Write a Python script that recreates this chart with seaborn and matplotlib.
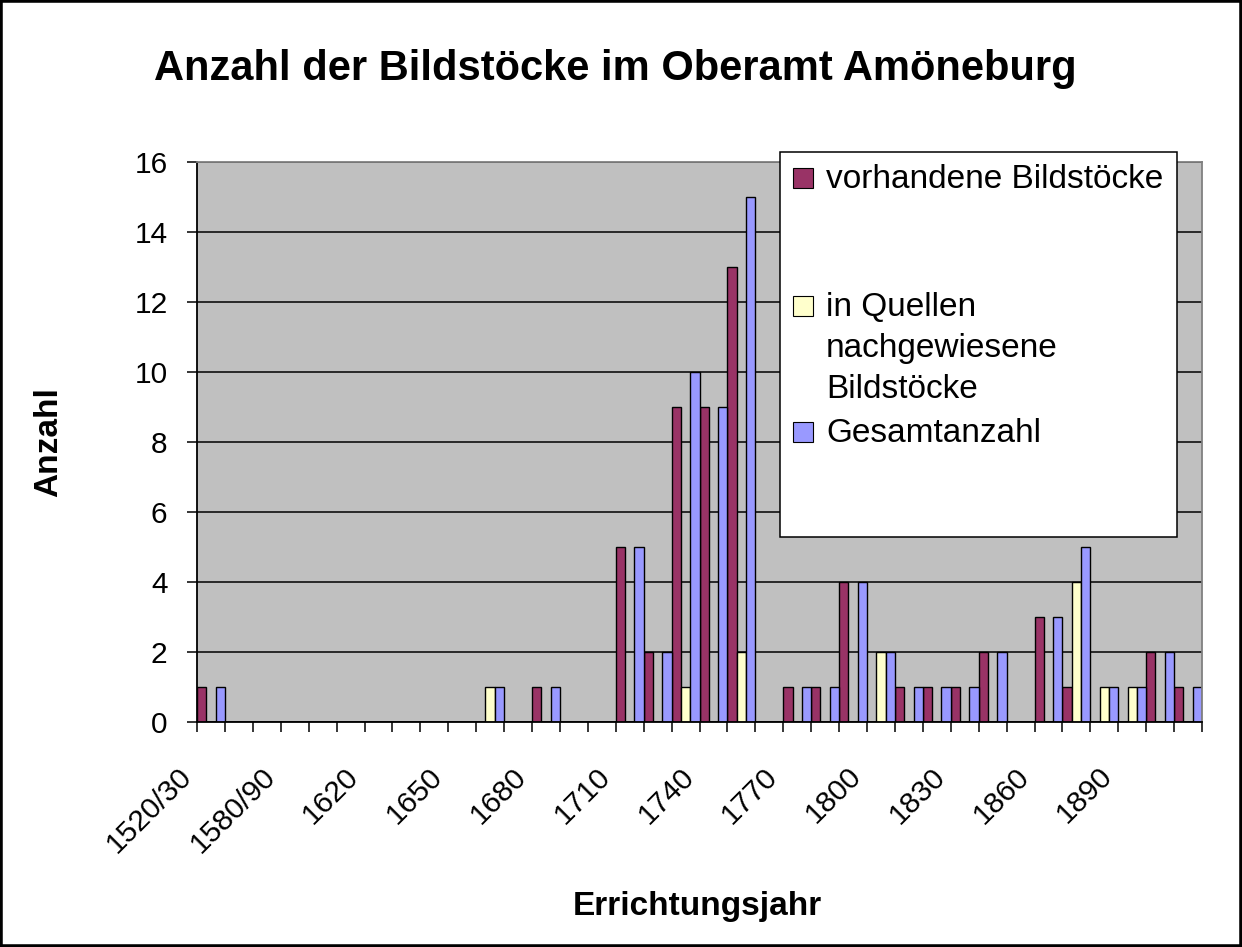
import matplotlib
matplotlib.use("Agg")
import numpy as np
import pandas as pd
import matplotlib.pyplot as plt
import matplotlib.transforms as mtransforms
from matplotlib.patches import Rectangle
import seaborn as sns

# Data (one value per category)
jahre = ["1520/30", "1540/50", "1560/70", "1580/90", "1600", "1610", "1620",
         "1630", "1640", "1650", "1660", "1670", "1680", "1690", "1700", "1710",
         "1720", "1730", "1740", "1750", "1760", "1770", "1780", "1790", "1800",
         "1810", "1820", "1830", "1840", "1850", "1860", "1870", "1880", "1890",
         "1900", "1910"]
vorhanden = [1, 0, 0, 0, 0, 0, 0, 0, 0, 0, 0, 0, 1, 0, 0, 5, 2, 9,
             9, 13, 0, 1, 1, 4, 0, 1, 1, 1, 2, 0, 3, 1, 0, 0, 2, 1]
quellen = [0, 0, 0, 0, 0, 0, 0, 0, 0, 0, 1, 0, 0, 0, 0, 0, 0, 1,
           0, 2, 0, 0, 0, 0, 2, 0, 0, 0, 0, 0, 0, 4, 1, 1, 0, 0]
gesamt = [1, 0, 0, 0, 0, 0, 0, 0, 0, 0, 1, 0, 1, 0, 0, 5, 2, 10,
          9, 15, 0, 1, 1, 4, 2, 1, 1, 1, 2, 0, 3, 5, 1, 1, 2, 1]
reihen = ["vorhandene Bildstöcke", "in Quellen\nnachgewiesene\nBildstöcke", "Gesamtanzahl"]
farben = ["#993366", "#FFFFCC", "#9999FF"]
beschriftet = ["1520/30", "1580/90", "1620", "1650", "1680", "1710", "1740",
               "1770", "1800", "1830", "1860", "1890"]
y_ticks = list(range(0, 17, 2))

df = pd.DataFrame({
    "Jahr": jahre * 3,
    "Anzahl": vorhanden + quellen + gesamt,
    "Reihe": [r for r in reihen for _ in jahre],
})

W, H = 1242, 947


def fx(px):
    return px / W


def fy(py):
    return 1 - py / H


sns.set_style("white")
plt.rcParams["font.family"] = ["Liberation Sans", "DejaVu Sans"]
plt.rcParams["text.color"] = "black"
plt.rcParams["axes.labelcolor"] = "black"
plt.rcParams["xtick.color"] = "black"
plt.rcParams["ytick.color"] = "black"

fig = plt.figure(figsize=(W / 100, H / 100), dpi=100)
ax = fig.add_axes([fx(197), fy(722), fx(1202) - fx(197), fy(162) - fy(722)])

sns.barplot(data=df, x="Jahr", y="Anzahl", hue="Reihe", order=jahre,
            hue_order=reihen, palette=farben, saturation=1, width=1,
            edgecolor="black", linewidth=1, errorbar=None, legend=False, ax=ax)

ax.set_facecolor("#C0C0C0")
ax.set_xlim(-0.5, len(jahre) - 0.5)
ax.set_ylim(0, 16)
ax.set_xlabel("")
ax.set_ylabel("")
ax.set_yticks(y_ticks)
ax.yaxis.grid(True, color="black", linewidth=1.1)
ax.set_axisbelow(True)
ax.tick_params(axis="y", direction="out", length=7.2, width=1.1, pad=14,
               labelsize=21.5, left=True, color="black", labelcolor="black")

# category labels every third category, tick marks at category borders
ax.set_xticks([jahre.index(j) for j in beschriftet], beschriftet)
ax.set_xticks(np.arange(-0.5, len(jahre)), minor=True)
ax.tick_params(axis="x", which="major", length=0, pad=36, labelsize=21.5,
               labelcolor="black")
ax.tick_params(axis="x", which="minor", direction="out", length=7.2,
               width=1.1, bottom=True, color="black")
offset = mtransforms.ScaledTranslation(-24 / 100, 0, fig.dpi_scale_trans)
for lbl in ax.get_xticklabels():
    lbl.set_rotation(45)
    lbl.set_ha("right")
    lbl.set_va("center")
    lbl.set_rotation_mode("anchor")
    lbl.set_transform(lbl.get_transform() + offset)

for side in ["left", "bottom"]:
    ax.spines[side].set_color("black")
    ax.spines[side].set_linewidth(1.3)
for side in ["top", "right"]:
    ax.spines[side].set_color("#808080")
    ax.spines[side].set_linewidth(1.3)

# titles
fig.text(fx(615), fy(80), "Anzahl der Bildstöcke im Oberamt Amöneburg",
         fontsize=30, fontweight="bold", ha="center", va="baseline")
fig.text(fx(697), fy(915), "Errichtungsjahr", fontsize=24, fontweight="bold",
         ha="center", va="baseline")
fig.text(fx(49), fy(442), "Anzahl", fontsize=24, fontweight="bold",
         rotation=90, ha="center", va="center")

# legend box like the Excel one
fig.add_artist(Rectangle((fx(780), fy(537)), fx(1177) - fx(780), fy(152) - fy(537),
                         transform=fig.transFigure, facecolor="white",
                         edgecolor="black", linewidth=1.1, zorder=5))
baselines = [188, 316, 442]
for name, farbe, base in zip(reihen, farben, baselines):
    fig.add_artist(Rectangle((fx(793), fy(base)), fx(20), 20 / H,
                             transform=fig.transFigure, facecolor=farbe,
                             edgecolor="black", linewidth=0.8, zorder=6))
    for i, zeile in enumerate(name.split("\n")):
        fig.text(fx(826), fy(base + i * 41), zeile, fontsize=24,
                 ha="left", va="baseline", zorder=7)

# outer frame
fig.add_artist(Rectangle((0, 0), 1, 1, transform=fig.transFigure, fill=False,
                         edgecolor="black", linewidth=4, zorder=10))

fig.savefig("out.png", dpi=100)
